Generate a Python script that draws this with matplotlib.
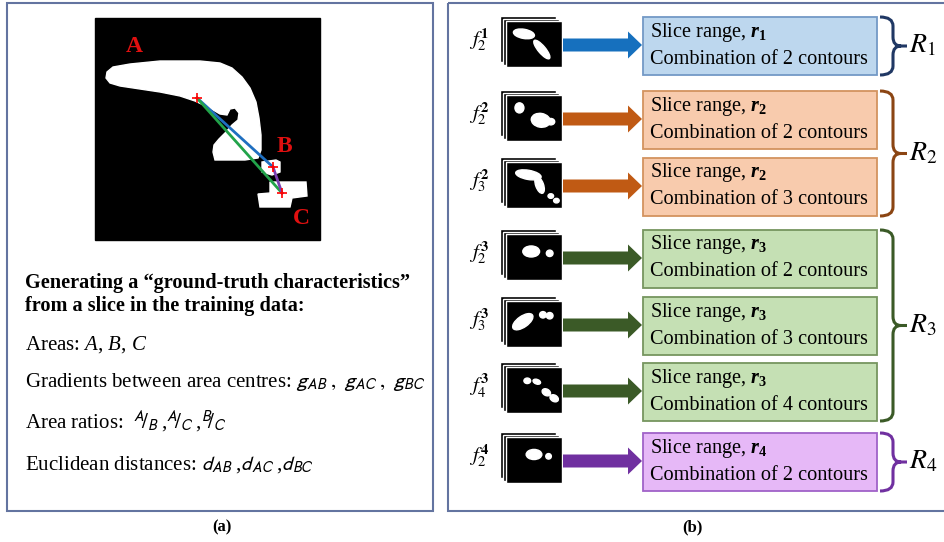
import matplotlib
matplotlib.use("Agg")
import matplotlib.pyplot as plt
from matplotlib.patches import Rectangle, Polygon, Ellipse, FancyArrow, PathPatch
from matplotlib.path import Path

plt.rcParams['font.family'] = ['Liberation Serif', 'DejaVu Serif']
plt.rcParams['mathtext.fontset'] = 'custom'
plt.rcParams['mathtext.rm'] = 'Liberation Serif'
plt.rcParams['mathtext.it'] = 'Liberation Serif:italic'
plt.rcParams['mathtext.bf'] = 'Liberation Serif:bold'
plt.rcParams['mathtext.bfit'] = 'Liberation Serif:italic:bold'

# Inhalt (b): eine Zeile pro Schichtstapel
row_labels = [r'$f_2^{\mathbf{1}}$', r'$f_2^{\mathbf{2}}$', r'$f_3^{\mathbf{2}}$', r'$f_2^{\mathbf{3}}$',
              r'$f_3^{\mathbf{3}}$', r'$f_4^{\mathbf{3}}$', r'$f_2^{\mathbf{4}}$']
row_range = [1, 2, 2, 3, 3, 3, 4]
row_contours = [2, 2, 3, 2, 3, 4, 2]
group_labels = [r'$R_1$', r'$R_2$', r'$R_3$', r'$R_4$']
group_rows = [(0, 0), (1, 2), (3, 5), (6, 6)]

# Inhalt (a)
heading = ['Generating a \u201cground-truth characteristics\u201d', 'from a slice in the training data:']
feature_lines = [
    ('Areas: $A$, $B$, $C$', 'custom'),
    ('Gradients between area centres: $g_{AB}$ $,$ $g_{AC}$ $,$ $g_{BC}$', 'stixsans'),
    ('Area ratios:  ${}^{A}\\!/_{B}$ ,${}^{A}\\!/_{C}$ ,${}^{B}\\!/_{C}$', 'stixsans'),
    ('Euclidean distances: $d_{AB}$ ,$d_{AC}$ ,$d_{BC}$', 'stixsans'),
]

# Farben je Gruppe
arrow_col = ['#1670be', '#c05a14', '#3b5a27', '#7030a0']
fill_col = ['#bdd7ee', '#f8cbad', '#c5e0b4', '#e6b8f7']
edge_col = ['#7399c6', '#d3935f', '#76955f', '#a062c8']
brace_col = ['#203864', '#8b4513', '#3b5a27', '#7030a0']
frame_col = '#6374a0'

# Layout (Pixel)
box_tops = [17, 91, 158, 230, 297, 363, 433]
box_h = 58
box_x0, box_x1 = 643, 877

# weiße Flecken in den Miniaturen (relativ: cx, cy, w, h, Winkel)
blobs = [
    [(0.32, 0.28, 0.38, 0.2, 10), (0.64, 0.62, 0.42, 0.16, 50)],
    [(0.24, 0.28, 0.16, 0.22, 0), (0.62, 0.55, 0.34, 0.3, 10), (0.8, 0.58, 0.14, 0.14, 0)],
    [(0.4, 0.28, 0.46, 0.2, 10), (0.6, 0.5, 0.14, 0.38, -20), (0.8, 0.74, 0.1, 0.1, 0), (0.9, 0.84, 0.1, 0.1, 0)],
    [(0.45, 0.38, 0.3, 0.24, 0), (0.78, 0.42, 0.12, 0.14, 0)],
    [(0.3, 0.45, 0.42, 0.24, -35), (0.66, 0.3, 0.12, 0.14, 0), (0.78, 0.32, 0.12, 0.14, 0)],
    [(0.38, 0.3, 0.12, 0.12, 0), (0.55, 0.32, 0.14, 0.1, 20), (0.72, 0.55, 0.16, 0.14, 30), (0.86, 0.68, 0.16, 0.14, 30)],
    [(0.5, 0.38, 0.28, 0.22, 0), (0.76, 0.42, 0.1, 0.12, 0)],
]

fig = plt.figure(figsize=(9.45, 5.42), dpi=100)
ax = fig.add_axes([0, 0, 1, 1])
ax.set_xlim(0, 945)
ax.set_ylim(542, 0)
ax.axis('off')

# Rahmen
ax.add_patch(Rectangle((7, 3), 426, 508, fill=False, ec=frame_col, lw=1.5))
ax.add_patch(Rectangle((448, 3), 510, 508, fill=False, ec=frame_col, lw=1.5, clip_on=False))
ax.text(222, 527, '(a)', ha='center', va='center', fontsize=12, fontweight='bold')
ax.text(692, 527, '(b)', ha='center', va='center', fontsize=12, fontweight='bold')

# ---- (a): Beispielschicht ----
ax.add_patch(Rectangle((95, 18), 225, 222, color='black'))
area_a = [(107, 72), (113, 67), (130, 64), (160, 61), (200, 61), (220, 63), (232, 68), (242, 77), (250, 88),
          (256, 102), (259, 118), (261, 135), (261, 150), (258, 158), (245, 160), (215, 160), (213, 152),
          (214, 145), (219, 139), (226, 132), (232, 125), (238, 120), (239, 113), (235, 108), (230, 109),
          (227, 115), (220, 114), (208, 107), (195, 101), (180, 96), (160, 92), (140, 89), (120, 86),
          (110, 83), (106, 78)]
area_b = [(262, 162), (276, 160), (280, 162), (280, 172), (272, 175), (262, 172)]
area_c = [(270, 182), (306, 182), (307, 196), (292, 198), (290, 207), (260, 207), (258, 194), (270, 193)]
for pts in (area_a, area_b, area_c):
    ax.add_patch(Polygon(pts, closed=True, color='white'))
cA, cB, cC = (197, 98), (273, 167), (282, 193)
ax.plot([cA[0], cB[0]], [cA[1], cB[1]], color='#1f6fc0', lw=2)
ax.plot([cA[0], cC[0]], [cA[1], cC[1]], color='#22a34a', lw=2)
ax.plot([cB[0], cC[0]], [cB[1], cC[1]], color='#7b3fb0', lw=2)
ax.plot([cA[0], cB[0], cC[0]], [cA[1], cB[1], cC[1]], '+', color='red', ms=7, mew=1.2, ls='none')
for lab, (x, y) in zip('ABC', [(134, 46), (284, 146), (301, 218)]):
    ax.text(x, y, lab, color='#e01010', fontsize=17, fontweight='bold', ha='center', va='center')

ax.text(25, 283, heading[0], fontsize=14.6, fontweight='bold', va='center')
ax.text(25, 306, heading[1], fontsize=14.6, fontweight='bold', va='center')
for (txt, mf), y in zip(feature_lines, [345, 382, 422, 465]):
    ax.text(25, y, txt, fontsize=15, va='center', math_fontfamily=mf)

# ---- (b): Zeilen ----
def brace(y0, y1, color):
    x0, w, t, d = 880, 13, 8, 6
    ym = (y0 + y1) / 2
    r = 9
    verts = [(x0, y0), (x0 + w, y0), (x0 + w, y0 + r), (x0 + w, ym - r), (x0 + w, ym), (x0 + w + t, ym),
             (x0 + w, ym), (x0 + w, ym + r), (x0 + w, y1 - r), (x0 + w, y1), (x0, y1),
             (x0 + w + t, ym), (x0 + w + t + d, ym)]
    codes = [Path.MOVETO, Path.CURVE3, Path.CURVE3, Path.LINETO, Path.CURVE3, Path.CURVE3,
             Path.CURVE3, Path.CURVE3, Path.LINETO, Path.CURVE3, Path.CURVE3, Path.MOVETO, Path.LINETO]
    ax.add_patch(PathPatch(Path(verts, codes), fill=False, ec=color, lw=2.2))
    return x0 + w + t + d

for g, (r0, r1) in enumerate(group_rows):
    for i in range(r0, r1 + 1):
        top = box_tops[i]
        cy = top + box_h / 2
        # Miniatur-Stapel
        tx, ty, tw, th = 506, cy - 25, 56, 46
        for k in (2, 1, 0):
            ax.add_patch(Rectangle((tx - 3 * k, ty - 2.5 * k), tw, th, fc='black', ec='white', lw=1))
        for (bx, by, bw, bh, ang) in blobs[i]:
            ax.add_patch(Ellipse((tx + bx * tw, ty + by * th), bw * tw, bh * th, angle=ang, color='white'))
        ax.text(489, cy - 6, row_labels[i], fontsize=15, ha='right', va='center', math_fontfamily='stix')
        # Pfeil
        ax.add_patch(FancyArrow(563, cy - 1, 79, 0, width=13, head_width=27, head_length=14,
                                length_includes_head=True, color=arrow_col[g], lw=0))
        # Kasten
        ax.add_patch(Rectangle((box_x0, top), box_x1 - box_x0, box_h, fc=fill_col[g], ec=edge_col[g], lw=1.3))
        ax.text(650, top + 15, r'Slice range, $\mathbfit{r}_{\mathbf{%d}}$' % row_range[i], fontsize=14.6, va='center')
        ax.text(650, top + 42, 'Combination of %d contours' % row_contours[i], fontsize=14.6, va='center')
    xe = brace(box_tops[r0], box_tops[r1] + box_h, brace_col[g])
    ax.text(xe + 2, (box_tops[r0] + box_tops[r1] + box_h) / 2, group_labels[g], fontsize=20,
            ha='left', va='center', math_fontfamily='stix', clip_on=False)

fig.savefig('out.png', dpi=100)
